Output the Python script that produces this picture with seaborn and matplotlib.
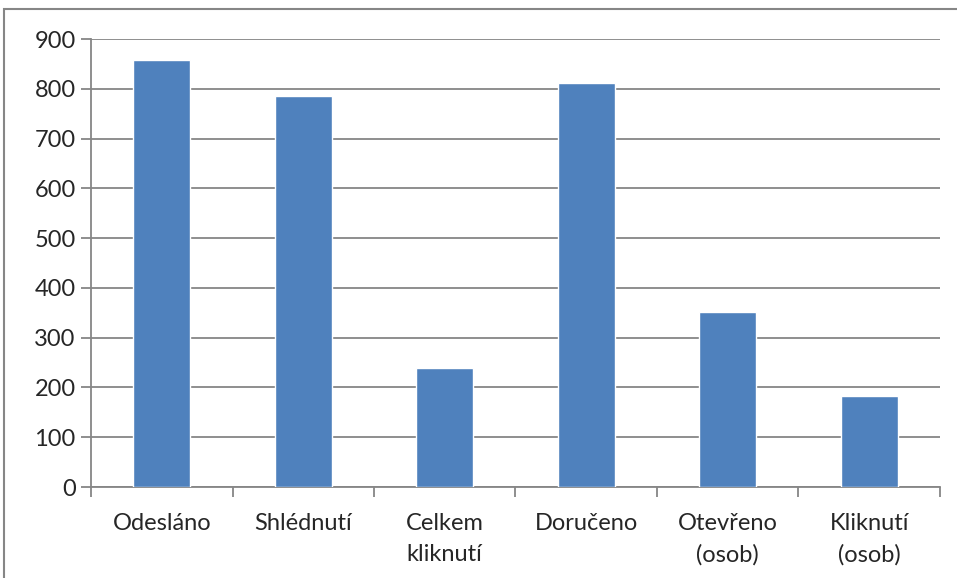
import numpy as np
import pandas as pd
import matplotlib.pyplot as plt
import seaborn as sns
from matplotlib.patches import Rectangle

sns.set_style('white')
plt.rcParams['font.family'] = ['Lato', 'DejaVu Sans']

kategorie = ['Odesláno', 'Shlédnutí', 'Celkem\nkliknutí', 'Doručeno',
             'Otevřeno\n(osob)', 'Kliknutí\n(osob)']
hodnoty = [857, 785, 240, 812, 352, 182]
yticks = [0, 100, 200, 300, 400, 500, 600, 700, 800, 900]

df = pd.DataFrame({'kat': kategorie, 'val': hodnoty})

fig = plt.figure(figsize=(9.57, 5.78), dpi=100)
ax = fig.add_axes([0.0951, 0.1574, 0.8871, 0.7751])

sns.barplot(data=df, x='kat', y='val', color='#4F81BD', width=0.4,
            saturation=1, ax=ax, zorder=3)

gray = '#868686'
ax.set_ylim(0, 900)
ax.set_yticks(yticks)
ax.set_xlim(-0.5, len(kategorie) - 0.5)
ax.grid(axis='y', color=gray, linewidth=1.3, zorder=0)
ax.set_axisbelow(True)
for s in ['top', 'right']:
    ax.spines[s].set_visible(False)
for s in ['left', 'bottom']:
    ax.spines[s].set_color(gray)
    ax.spines[s].set_linewidth(1.3)

# ticky na ose x mezi kategoriemi
ax.set_xticks(np.arange(len(kategorie)))
ax.set_xticklabels(kategorie, fontsize=17, linespacing=1.55)
ax.set_xticks(np.arange(len(kategorie) + 1) - 0.5, minor=True)
ax.tick_params(axis='x', which='major', bottom=True, length=0, pad=19)
ax.tick_params(axis='x', which='minor', bottom=True, length=7, color=gray,
               width=1.3, direction='out')
ax.tick_params(axis='y', left=True, length=7, color=gray, width=1.3,
               labelsize=17, pad=4)
for lbl in ax.get_xticklabels():
    lbl.set_verticalalignment('top')
ax.set_xlabel('')
ax.set_ylabel('')

# ramecek grafu
fig.patches.append(Rectangle((4 / 957, -0.05), 1.1, (578 - 9) / 578 + 0.05,
                             transform=fig.transFigure, fill=False,
                             edgecolor=gray, linewidth=1.5))

fig.savefig('out.png', dpi=100)
